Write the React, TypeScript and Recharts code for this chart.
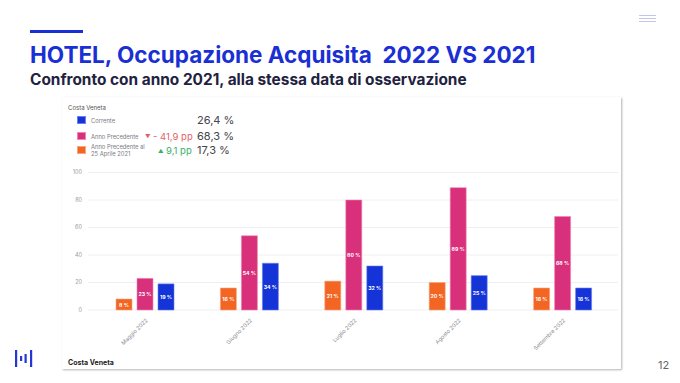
import React from "react";
import { BarChart, Bar, XAxis, YAxis, CartesianGrid, LabelList } from "recharts";

const months = ["Maggio 2022", "Giugno 2022", "Luglio 2022", "Agosto 2022", "Settembre 2022"];
const aprile2021 = [8, 16, 21, 20, 16];
const annoPrecedente = [23, 54, 80, 89, 68];
const corrente = [19, 34, 32, 25, 16];
const yTicks = [0, 20, 40, 60, 80, 100];

const legendItems = [
  { name: ["Corrente"], color: "#1434d8", border: "#6b7fee", value: "26,4 %", delta: "", up: false },
  { name: ["Anno Precedente"], color: "#d8307a", border: "#ee86b4", value: "68,3 %", delta: "- 41,9 pp", up: false },
  { name: ["Anno Precedente al", "25 Aprile 2021"], color: "#f26522", border: "#f8a57c", value: "17,3 %", delta: "9,1 pp", up: true },
];

const chartData = months.map((m, i) => ({
  month: m,
  aprile: aprile2021[i],
  precedente: annoPrecedente[i],
  corrente: corrente[i],
}));

const FONT = "Inter, 'Noto Sans', sans-serif";

function MonthTick(props: any) {
  const { x, y, payload } = props;
  return (
    <g transform={`translate(${x},${y})`}>
      <text x={0} y={0} dy={4} textAnchor="end" transform="rotate(-45)" fontSize={5.5} fill="#8a8a92" fontFamily={FONT}>
        {payload.value}
      </text>
    </g>
  );
}

// centred white label inside each bar, no wrapping
function BarLabel(props: any) {
  const { x, y, width, height, value } = props;
  return (
    <text
      x={Number(x) + Number(width) / 2}
      y={Number(y) + Number(height) / 2}
      dy={2}
      textAnchor="middle"
      fill="#ffffff"
      fontSize={5.2}
      fontWeight={700}
      fontFamily={FONT}
    >
      {`${value} %`}
    </text>
  );
}

function Logo() {
  return (
    <svg width={20} height={20} style={{ position: "absolute", left: 14, top: 349 }}>
      <rect x={1} y={1} width={2.2} height={17} fill="#2436d4" />
      <rect x={6} y={7} width={2.2} height={5} fill="#2436d4" />
      <rect x={10.5} y={5} width={2.2} height={9} fill="#2436d4" />
      <rect x={16} y={1} width={2.2} height={17} fill="#2436d4" />
    </svg>
  );
}

export default function App() {
  return (
    <div style={{ position: "absolute", left: 0, top: 0, width: 680, height: 383, background: "#ffffff", fontFamily: FONT, overflow: "hidden" }}>
      {/* header */}
      <div style={{ position: "absolute", left: 30, top: 30, width: 53, height: 3, background: "#1a2fd4" }} />
      <div style={{ position: "absolute", left: 30, top: 41, fontSize: 22.5, fontWeight: 700, color: "#1a2fd4", whiteSpace: "pre", lineHeight: "28px" }}>
        {"HOTEL, Occupazione Acquisita  2022 VS 2021"}
      </div>
      <div style={{ position: "absolute", left: 30, top: 70, fontSize: 15.4, fontWeight: 700, color: "#1f2240", whiteSpace: "pre", lineHeight: "20px" }}>
        Confronto con anno 2021, alla stessa data di osservazione
      </div>
      {[15, 18, 21].map((t) => (
        <div key={t} style={{ position: "absolute", left: 639, top: t, width: 17, height: 1, background: "#c2c6ee" }} />
      ))}

      {/* card */}
      <div style={{ position: "absolute", left: 62, top: 97, width: 559, height: 272, background: "#fff", boxShadow: "1px 1px 2px rgba(0,0,0,0.3)" }} />
      <div style={{ position: "absolute", left: 68, top: 104, fontSize: 6, color: "#555", lineHeight: "7px" }}>Costa Veneta</div>

      {legendItems.map((it, i) => {
        const cy = [120, 136, 150][i];
        return (
          <React.Fragment key={i}>
            <div style={{ position: "absolute", left: 77, top: cy - 4.5, width: 6.5, height: 6.5, background: it.color, border: `1.2px solid ${it.border}` }} />
            <div style={{ position: "absolute", left: 91, top: cy - (it.name.length * 7) / 2, fontSize: 5.8, lineHeight: "7px", color: "#7a7a82", whiteSpace: "pre" }}>
              {it.name.map((n) => (
                <div key={n}>{n}</div>
              ))}
            </div>
            {it.delta && (
              <>
                <div style={{ position: "absolute", left: it.up ? 158 : 145, top: cy - 2.5, fontSize: 5.5, lineHeight: "7px", color: it.up ? "#3aae6c" : "#e2606c" }}>
                  {it.up ? "▲" : "▼"}
                </div>
                <div style={{ position: "absolute", left: it.up ? 166 : 153, top: cy - 6.5, fontSize: 9.5, lineHeight: "13px", color: it.up ? "#3aae6c" : "#e2606c", whiteSpace: "pre" }}>
                  {it.delta}
                </div>
              </>
            )}
            <div style={{ position: "absolute", left: 197, top: cy - 7, fontSize: 11, lineHeight: "14px", color: "#44444c", whiteSpace: "pre" }}>{it.value}</div>
          </React.Fragment>
        );
      })}

      <div style={{ position: "absolute", left: 60, top: 160 }}>
        <BarChart width={565} height={195} data={chartData} margin={{ top: 12.5, right: 7, bottom: 0, left: 0 }} barSize={16} barGap={5}>
          <CartesianGrid vertical={false} stroke="#ececf0" strokeWidth={0.8} />
          <XAxis
            dataKey="month"
            axisLine={false}
            tickLine={false}
            interval={0}
            height={45}
            padding={{ left: 5, right: 3 }}
            tick={<MonthTick />}
          />
          <YAxis
            domain={[0, 100]}
            ticks={yTicks}
            width={28}
            axisLine={false}
            tickLine={false}
            tickSize={4}
            tickMargin={2}
            tick={{ fontSize: 5.5, fill: "#9a9aa2", fontFamily: FONT }}
          />
          <Bar dataKey="aprile" fill="#f26522" stroke="#f8a57c" strokeWidth={0.6} isAnimationActive={false}>
            <LabelList dataKey="aprile" content={<BarLabel />} />
          </Bar>
          <Bar dataKey="precedente" fill="#d8307a" stroke="#ee86b4" strokeWidth={0.6} isAnimationActive={false}>
            <LabelList dataKey="precedente" content={<BarLabel />} />
          </Bar>
          <Bar dataKey="corrente" fill="#1434d8" stroke="#6b7fee" strokeWidth={0.6} isAnimationActive={false}>
            <LabelList dataKey="corrente" content={<BarLabel />} />
          </Bar>
        </BarChart>
      </div>

      {/* footer */}
      <div style={{ position: "absolute", left: 68, top: 359, fontSize: 7, fontWeight: 700, color: "#222", lineHeight: "8px" }}>Costa Veneta</div>
      <Logo />
      <div style={{ position: "absolute", left: 658, top: 358, fontSize: 11, color: "#666", lineHeight: "14px" }}>12</div>
    </div>
  );
}
